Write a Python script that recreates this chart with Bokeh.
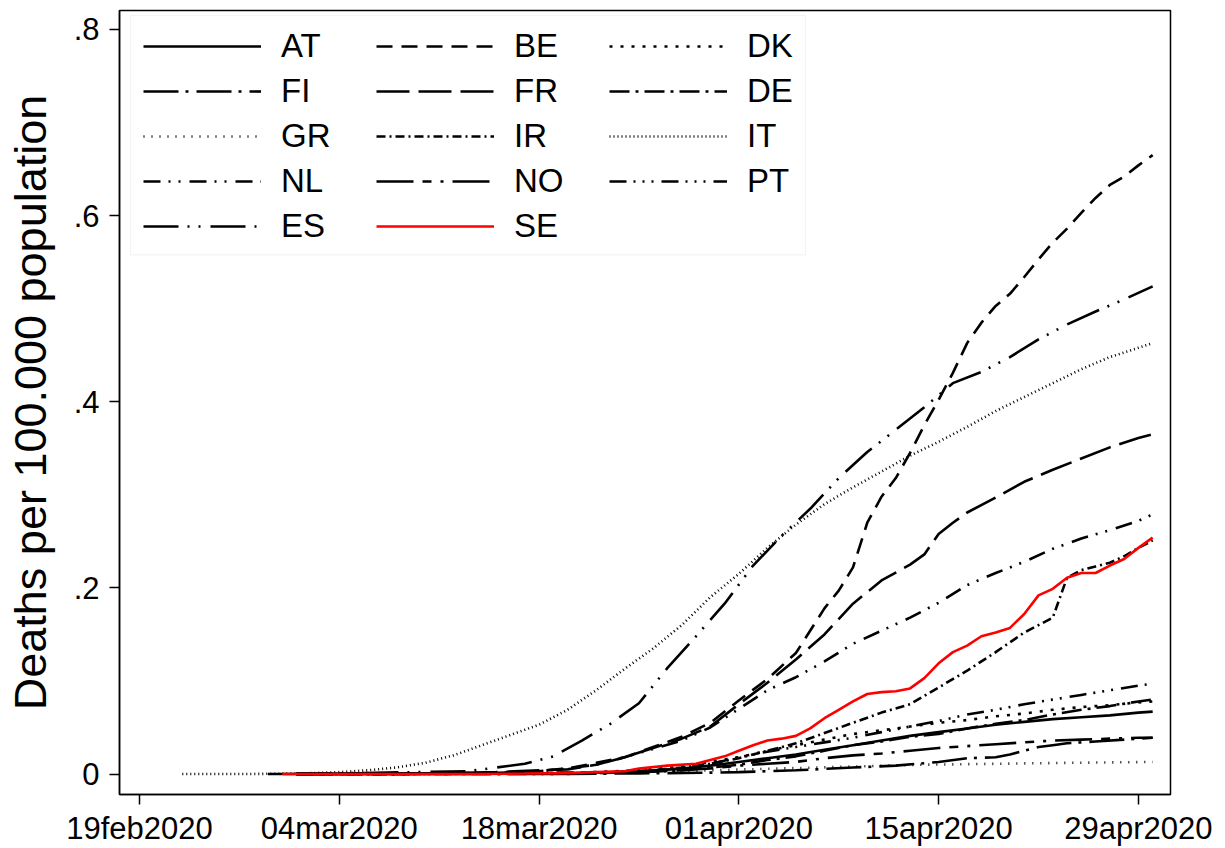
import pandas as pd
from bokeh.plotting import figure
from bokeh.models import Range1d, FixedTicker, Legend, LegendItem, BoxAnnotation
from bokeh.embed import file_html
from bokeh.resources import INLINE

# ---------------- data ----------------
YEAR = "2020/"

AT_dates = ["2/28", "3/20", "3/25", "3/28", "3/30", "4/1", "4/3", "4/5", "4/7", "4/9", "4/11",
            "4/13", "4/15", "4/17", "4/19", "4/21", "4/23", "4/25", "4/27", "4/29", "4/30"]
AT_vals = [0, 0.0005, 0.003, 0.006, 0.009, 0.013, 0.017, 0.021, 0.026, 0.031, 0.036,
           0.041, 0.045, 0.049, 0.053, 0.056, 0.059, 0.061, 0.063, 0.066, 0.067]

BE_dates = ["3/1", "3/12", "3/17", "3/20", "3/22", "3/24", "3/26", "3/28", "3/30", "4/1", "4/3",
            "4/5", "4/7", "4/8", "4/9", "4/10", "4/11", "4/12", "4/13", "4/14", "4/15", "4/16",
            "4/17", "4/18", "4/19", "4/20", "4/21", "4/22", "4/23", "4/24", "4/25", "4/26",
            "4/27", "4/28", "4/29", "4/30"]
BE_vals = [0, 0.0003, 0.002, 0.006, 0.012, 0.018, 0.029, 0.040, 0.055, 0.079, 0.102,
           0.130, 0.178, 0.197, 0.222, 0.270, 0.298, 0.318, 0.345, 0.375, 0.402, 0.431,
           0.463, 0.485, 0.503, 0.516, 0.534, 0.553, 0.571, 0.586, 0.603, 0.619,
           0.633, 0.642, 0.654, 0.665]

DK_dates = ["3/1", "3/20", "3/25", "3/28", "3/30", "4/1", "4/3", "4/5", "4/7", "4/9", "4/11",
            "4/13", "4/15", "4/17", "4/19", "4/21", "4/23", "4/25", "4/27", "4/29", "4/30"]
DK_vals = [0, 0.001, 0.004, 0.008, 0.013, 0.018, 0.025, 0.031, 0.037, 0.043, 0.047,
           0.051, 0.055, 0.058, 0.062, 0.065, 0.069, 0.072, 0.074, 0.077, 0.078]

FI_dates = ["3/1", "3/20", "3/25", "3/30", "4/1", "4/5", "4/9", "4/12", "4/15", "4/17",
            "4/19", "4/20", "4/21", "4/22", "4/23", "4/24", "4/26", "4/28", "4/30"]
FI_vals = [0, 0.0002, 0.0007, 0.0015, 0.002, 0.004, 0.007, 0.009, 0.013, 0.017,
           0.018, 0.021, 0.025, 0.029, 0.031, 0.033, 0.035, 0.037, 0.039]

FR_dates = ["3/1", "3/12", "3/15", "3/18", "3/20", "3/22", "3/24", "3/26", "3/28", "3/30",
            "4/1", "4/3", "4/5", "4/7", "4/9", "4/11", "4/13", "4/14", "4/15", "4/16",
            "4/17", "4/19", "4/21", "4/23", "4/25", "4/27", "4/29", "4/30"]
FR_vals = [0, 0.001, 0.002, 0.004, 0.005, 0.010, 0.018, 0.028, 0.038, 0.051,
           0.075, 0.098, 0.123, 0.150, 0.183, 0.208, 0.225, 0.236, 0.258, 0.270,
           0.281, 0.297, 0.314, 0.327, 0.339, 0.351, 0.361, 0.365]

DE_dates = ["3/1", "3/20", "3/25", "3/28", "3/30", "4/1", "4/3", "4/5", "4/7", "4/9", "4/11",
            "4/13", "4/15", "4/17", "4/19", "4/21", "4/23", "4/25", "4/27", "4/29", "4/30"]
DE_vals = [0, 0.0002, 0.002, 0.004, 0.007, 0.010, 0.015, 0.019, 0.025, 0.031, 0.035,
           0.040, 0.043, 0.049, 0.054, 0.058, 0.064, 0.069, 0.073, 0.078, 0.080]

GR_dates = ["3/1", "3/20", "3/25", "3/30", "4/4", "4/9", "4/14", "4/19", "4/24", "4/30"]
GR_vals = [0, 0.0005, 0.002, 0.004, 0.006, 0.008, 0.010, 0.011, 0.012, 0.013]

IR_dates = ["3/1", "3/20", "3/23", "3/26", "3/28", "3/30", "4/1", "4/3", "4/5", "4/7", "4/9",
            "4/11", "4/13", "4/15", "4/17", "4/19", "4/21", "4/22", "4/23", "4/24", "4/25",
            "4/26", "4/27", "4/28", "4/29", "4/30"]
IR_vals = [0, 0.0006, 0.002, 0.004, 0.007, 0.011, 0.017, 0.025, 0.033, 0.044, 0.055,
           0.066, 0.075, 0.093, 0.111, 0.131, 0.152, 0.160, 0.168, 0.211, 0.219,
           0.223, 0.227, 0.234, 0.243, 0.251]

IT_dates = ["2/22", "2/27", "3/1", "3/4", "3/6", "3/8", "3/10", "3/12", "3/14", "3/16", "3/18",
            "3/20", "3/22", "3/24", "3/26", "3/28", "3/30", "4/1", "4/3", "4/5", "4/7", "4/9",
            "4/11", "4/13", "4/15", "4/17", "4/19", "4/21", "4/23", "4/25", "4/27", "4/29", "4/30"]
IT_vals = [0, 0.0001, 0.0005, 0.002, 0.004, 0.007, 0.012, 0.020, 0.031, 0.042, 0.053,
           0.069, 0.090, 0.113, 0.135, 0.160, 0.190, 0.215, 0.243, 0.268, 0.290, 0.308,
           0.325, 0.342, 0.357, 0.373, 0.390, 0.405, 0.420, 0.435, 0.448, 0.458, 0.463]

NL_dates = ["3/1", "3/12", "3/15", "3/18", "3/20", "3/22", "3/24", "3/26", "3/28", "3/30",
            "4/1", "4/3", "4/5", "4/7", "4/9", "4/11", "4/13", "4/15", "4/17", "4/19",
            "4/21", "4/23", "4/25", "4/27", "4/29", "4/30"]
NL_vals = [0, 0.0002, 0.001, 0.003, 0.006, 0.010, 0.018, 0.027, 0.036, 0.050,
           0.070, 0.090, 0.104, 0.121, 0.140, 0.154, 0.168, 0.184, 0.203, 0.216,
           0.228, 0.242, 0.253, 0.262, 0.272, 0.279]

NO_dates = ["3/1", "3/20", "3/25", "3/28", "3/30", "4/1", "4/3", "4/5", "4/7", "4/9", "4/11",
            "4/13", "4/15", "4/17", "4/19", "4/21", "4/23", "4/25", "4/27", "4/29", "4/30"]
NO_vals = [0, 0.0005, 0.002, 0.004, 0.006, 0.009, 0.011, 0.013, 0.017, 0.020, 0.022,
           0.025, 0.028, 0.030, 0.032, 0.034, 0.036, 0.037, 0.038, 0.039, 0.039]

PT_dates = ["3/1", "3/25", "3/28", "3/30", "4/1", "4/3", "4/5", "4/7", "4/9", "4/11",
            "4/13", "4/15", "4/17", "4/19", "4/21", "4/23", "4/25", "4/27", "4/29", "4/30"]
PT_vals = [0, 0.002, 0.006, 0.011, 0.018, 0.024, 0.029, 0.034, 0.039, 0.045,
           0.051, 0.057, 0.064, 0.069, 0.075, 0.080, 0.085, 0.090, 0.095, 0.097]

ES_dates = ["3/1", "3/13", "3/15", "3/17", "3/19", "3/21", "3/23", "3/25", "3/27", "3/29",
            "3/31", "4/2", "4/4", "4/6", "4/8", "4/10", "4/12", "4/14", "4/16", "4/18",
            "4/20", "4/22", "4/24", "4/26", "4/28", "4/30"]
ES_vals = [0, 0.003, 0.007, 0.011, 0.019, 0.036, 0.054, 0.076, 0.114, 0.148,
           0.183, 0.224, 0.256, 0.285, 0.318, 0.346, 0.370, 0.394, 0.420, 0.432,
           0.448, 0.467, 0.483, 0.497, 0.510, 0.524]

SE_dates = ["2/29", "3/10", "3/14", "3/17", "3/20", "3/22", "3/24", "3/25", "3/27", "3/29",
            "3/30", "3/31", "4/1", "4/2", "4/3", "4/4", "4/5", "4/6", "4/7", "4/8", "4/9",
            "4/10", "4/11", "4/12", "4/13", "4/14", "4/15", "4/16", "4/17", "4/18", "4/19",
            "4/20", "4/21", "4/22", "4/23", "4/24", "4/25", "4/26", "4/27", "4/28", "4/29", "4/30"]
SE_vals = [0, 0, 0.0001, 0.0005, 0.001, 0.002, 0.003, 0.006, 0.009, 0.011,
           0.015, 0.019, 0.025, 0.031, 0.036, 0.038, 0.041, 0.049, 0.060, 0.069, 0.078,
           0.086, 0.088, 0.089, 0.092, 0.103, 0.119, 0.131, 0.138, 0.148, 0.152,
           0.157, 0.172, 0.192, 0.199, 0.211, 0.216, 0.216, 0.224, 0.231, 0.243, 0.254]

COUNTRIES = ["AT", "BE", "DK", "FI", "FR", "DE", "GR", "IR", "IT", "NL", "NO", "PT", "ES", "SE"]
DATA = {
    "AT": (AT_dates, AT_vals), "BE": (BE_dates, BE_vals), "DK": (DK_dates, DK_vals),
    "FI": (FI_dates, FI_vals), "FR": (FR_dates, FR_vals), "DE": (DE_dates, DE_vals),
    "GR": (GR_dates, GR_vals), "IR": (IR_dates, IR_vals), "IT": (IT_dates, IT_vals),
    "NL": (NL_dates, NL_vals), "NO": (NO_dates, NO_vals), "PT": (PT_dates, PT_vals),
    "ES": (ES_dates, ES_vals), "SE": (SE_dates, SE_vals),
}

XTICK_LABELS = ["19feb2020", "04mar2020", "18mar2020", "01apr2020", "15apr2020", "29apr2020"]
YTICKS = [0, 0.2, 0.4, 0.6, 0.8]
YTICK_LABELS = ["0", ".2", ".4", ".6", ".8"]
Y_TITLE = "Deaths per 100.000 population"

# ---------------- styles ----------------
STYLE = {
    "AT": ("black", "solid"),
    "BE": ("black", "16 9"),
    "DK": ("black", "3 8"),
    "FI": ("black", "35 7 3 8"),
    "FR": ("black", "33 9"),
    "DE": ("black", "20 6 3 6"),
    "GR": ("black", "1 7"),
    "IR": ("black", "9 4 2 4"),
    "IT": ("black", "1 3"),
    "NL": ("black", "17 8 2 8 2 9"),
    "NO": ("black", "37 9 9 9 3 9"),
    "PT": ("black", "17 7 2 7 2 7 2 8"),
    "ES": ("black", "35 9 2 9 2 10"),
    "SE": ("#ff0000", "solid"),
}
FONT = "Liberation Sans"

# frame geometry (px) and axis ranges
W, H = 1225, 848
FL, FR_, FT, FB = 119, 55, 10, 52
FRAME_W, FRAME_H = W - FL - FR_, H - FT - FB
x_start = pd.Timestamp("2020-02-19") - pd.Timedelta(days=1.40)
x_end = pd.Timestamp("2020-02-19") + pd.Timedelta(days=72.25)
y_lo, y_hi = -0.0220, 0.8204

p = figure(width=W, height=H, x_axis_type="datetime",
           output_backend="svg", toolbar_location=None,
           x_range=Range1d(x_start, x_end), y_range=Range1d(y_lo, y_hi),
           min_border_left=FL, min_border_right=FR_, min_border_top=FT, min_border_bottom=FB)

p.grid.visible = False
p.outline_line_color = "black"
p.outline_line_width = 1.5
p.background_fill_color = "white"
p.border_fill_color = "white"

items = []
for c in COUNTRIES:
    ds, vs = DATA[c]
    xs = pd.to_datetime([YEAR + s for s in ds])
    color, dash = STYLE[c]
    r = p.line(xs, vs, line_color=color, line_dash=dash, line_width=2.6)
    items.append(LegendItem(label=c, renderers=[r]))

# axes
xt = [int(pd.to_datetime(s, format="%d%b%Y").value // 10**6) for s in XTICK_LABELS]
p.xaxis.ticker = FixedTicker(ticks=xt)
p.xaxis.major_label_overrides = {t: s for t, s in zip(xt, XTICK_LABELS)}
p.yaxis.ticker = FixedTicker(ticks=YTICKS)
p.yaxis.major_label_overrides = {t: s for t, s in zip(YTICKS, YTICK_LABELS)}
p.yaxis.axis_label = Y_TITLE

for ax in (p.xaxis, p.yaxis):
    ax.axis_line_color = "black"
    ax.axis_line_width = 1.5
    ax.major_tick_line_color = "black"
    ax.major_tick_line_width = 1.5
    ax.major_tick_out = 10
    ax.major_tick_in = 0
    ax.minor_tick_line_color = None
    ax.major_label_text_font = FONT
    ax.major_label_text_color = "black"
    ax.major_label_text_font_size = "31px"
    ax.axis_label_text_font = FONT
    ax.axis_label_text_font_style = "normal"
    ax.axis_label_text_color = "black"

p.xaxis.major_label_standoff = 6
p.yaxis.major_label_standoff = 10
p.yaxis.axis_label_text_font_size = "45px"
p.yaxis.axis_label_standoff = 15

# legend frame (light grey box behind the legend entries), placed in pixels
def px_to_x(px):
    return x_start + (x_end - x_start) * ((px - FL) / FRAME_W)

def py_to_y(py):
    return y_hi - (y_hi - y_lo) * ((py - FT) / FRAME_H)

box = BoxAnnotation(left=px_to_x(130), right=px_to_x(805),
                    top=py_to_y(15), bottom=py_to_y(255),
                    fill_color="white", fill_alpha=1.0,
                    line_color="#d9d9d9", line_width=1.2)
p.add_layout(box)

# legend entries: 5 rows of 38px with 7px spacing, padding 12
LEG_PAD, ROW_H, ROW_SP, NROWS = 12, 38, 7, 5
leg_h = 2 * LEG_PAD + NROWS * ROW_H + (NROWS - 1) * ROW_SP
leg_left_px, leg_top_px = 143 - LEG_PAD, 29 - LEG_PAD
legend = Legend(items=items,
                location=(leg_left_px - FL, FRAME_H - (leg_top_px - FT) - leg_h),
                orientation="horizontal", ncols=3,
                glyph_width=118, glyph_height=ROW_H, label_standoff=20, label_width=88,
                label_height=ROW_H, spacing=ROW_SP, padding=LEG_PAD, margin=0,
                label_text_font=FONT, label_text_font_size="33px",
                label_text_color="black",
                border_line_color="white", border_line_alpha=0.0,
                background_fill_alpha=0.0)
p.add_layout(legend)

open("out.html", "w").write(file_html(p, INLINE))
